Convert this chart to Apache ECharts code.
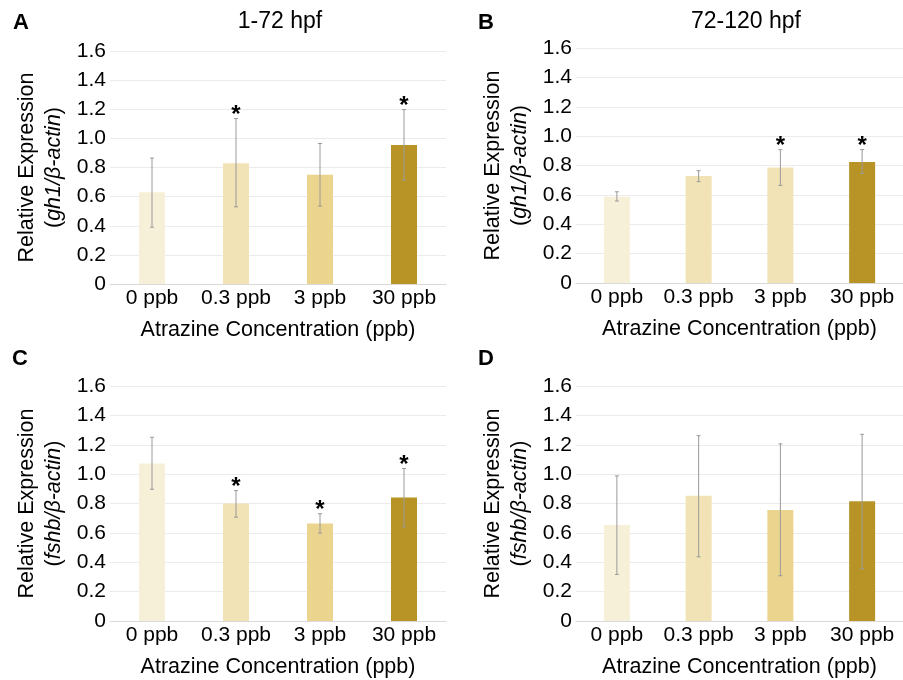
<!DOCTYPE html>
<html>
<head>
<meta charset="utf-8">
<script src="https://cdn.jsdelivr.net/npm/echarts@6/dist/echarts.min.js"></script>
<style>
  html, body { margin: 0; padding: 0; background: #fff; }
  #chart { width: 903px; height: 680px; }
</style>
</head>
<body>
<div id="chart"></div>
<script>
const categories = ['0 ppb', '0.3 ppb', '3 ppb', '30 ppb'];
const yTicks = [0, 0.2, 0.4, 0.6, 0.8, 1.0, 1.2, 1.4, 1.6];

// A: gh1, 1-72 hpf
const meanA = [0.63, 0.83, 0.75, 0.955];
const lowA = [0.39, 0.53, 0.535, 0.713];
const highA = [0.865, 1.136, 0.965, 1.198];
const sigA = [0, 1, 0, 1];
// B: gh1, 72-120 hpf
const meanB = [0.587, 0.728, 0.787, 0.824];
const lowB = [0.558, 0.69, 0.665, 0.746];
const highB = [0.621, 0.765, 0.908, 0.908];
const sigB = [0, 0, 1, 1];
// C: fshb, 1-72 hpf
const meanC = [1.072, 0.80, 0.664, 0.841];
const lowC = [0.897, 0.707, 0.598, 0.641];
const highC = [1.251, 0.888, 0.730, 1.038];
const sigC = [0, 1, 1, 1];
// D: fshb, 72-120 hpf
const meanD = [0.653, 0.852, 0.755, 0.816];
const lowD = [0.317, 0.437, 0.308, 0.356];
const highD = [0.988, 1.262, 1.206, 1.271];
const sigD = [0, 0, 0, 0];

const colorsA = ['#F7F0D8', '#F1E3B5', '#EBD48D', '#B89426'];
const colorsB = ['#F7F0D8', '#F1E3B5', '#F1E3B5', '#B89426'];

const FONT = '"Liberation Sans", Arial, sans-serif';
const FS = 21;

const panels = [
  { mean: meanA, low: lowA, high: highA, sig: sigA, colors: colorsA, gene: 'gh1', grid: { left: 110, top: 51, width: 336, height: 233 } },
  { mean: meanB, low: lowB, high: highB, sig: sigB, colors: colorsB, gene: 'gh1', grid: { left: 576, top: 48, width: 336, height: 235 } },
  { mean: meanC, low: lowC, high: highC, sig: sigC, colors: colorsA, gene: 'fshb', grid: { left: 110, top: 386, width: 336, height: 235 } },
  { mean: meanD, low: lowD, high: highD, sig: sigD, colors: colorsA, gene: 'fshb', grid: { left: 576, top: 386, width: 336, height: 235 } }
];

const grids = [], xAxes = [], yAxes = [], series = [];

panels.forEach((p, k) => {
  grids.push(p.grid);
  xAxes.push({
    type: 'category',
    gridIndex: k,
    data: categories,
    axisLine: { lineStyle: { color: '#D9D9D9' } },
    axisTick: { show: false },
    axisLabel: { color: '#000', fontSize: FS, fontFamily: FONT, margin: 4, interval: 0 },
    name: 'Atrazine Concentration (ppb)',
    nameLocation: 'middle',
    nameGap: 35,
    nameTextStyle: { color: '#000', fontSize: 21.5, fontFamily: FONT }
  });
  yAxes.push({
    type: 'value',
    gridIndex: k,
    min: 0,
    max: 1.6,
    interval: 0.2,
    axisLine: { show: false },
    axisTick: { show: false },
    splitLine: { lineStyle: { color: '#EBEBEB' } },
    axisLabel: {
      color: '#000', fontSize: FS, fontFamily: FONT, margin: 4,
      formatter: v => (v === 0 ? '0' : v.toFixed(1))
    },
    name: '{a|Relative Expression}\n{b|(}{c|' + p.gene + '/β-actin}{b|)}',
    nameLocation: 'middle',
    nameGap: 42,
    nameTextStyle: {
      rich: {
        a: { fontSize: 21.5, fontFamily: FONT, color: '#000', lineHeight: 27 },
        b: { fontSize: 21.5, fontFamily: FONT, color: '#000', lineHeight: 27 },
        c: { fontSize: 21.5, fontFamily: FONT, color: '#000', fontStyle: 'italic', lineHeight: 27 }
      }
    }
  });
  series.push({
    type: 'bar',
    xAxisIndex: k,
    yAxisIndex: k,
    barWidth: 26,
    data: p.mean.map((v, i) => ({ value: v, itemStyle: { color: p.colors[i] } })),
    silent: true
  });
  series.push({
    type: 'custom',
    xAxisIndex: k,
    yAxisIndex: k,
    silent: true,
    z: 5,
    data: p.mean.map((v, i) => [i, p.low[i], p.high[i], p.sig[i]]),
    renderItem: (params, api) => {
      const lo = api.coord([api.value(0), api.value(1)]);
      const hi = api.coord([api.value(0), api.value(2)]);
      const cap = 2;
      const st = { stroke: '#9A9A9A', lineWidth: 1 };
      const children = [
        { type: 'line', shape: { x1: hi[0], y1: hi[1], x2: lo[0], y2: lo[1] }, style: st },
        { type: 'line', shape: { x1: hi[0] - cap, y1: hi[1], x2: hi[0] + cap, y2: hi[1] }, style: st },
        { type: 'line', shape: { x1: lo[0] - cap, y1: lo[1], x2: lo[0] + cap, y2: lo[1] }, style: st }
      ];
      if (api.value(3)) {
        children.push({
          type: 'text',
          style: {
            text: '*', x: hi[0], y: hi[1] + 9, align: 'center', verticalAlign: 'bottom',
            fontSize: 24, fontWeight: 'bold', fontFamily: FONT, fill: '#000'
          }
        });
      }
      return { type: 'group', children: children };
    }
  });
});

const txt = (text, x, y, opts) => ({
  type: 'text', x: x, y: y,
  style: Object.assign({ text: text, fill: '#000', fontFamily: FONT, fontSize: 23, align: 'center', verticalAlign: 'middle' }, opts || {})
});

const chart = echarts.init(document.getElementById('chart'));
chart.setOption({
  animation: false,
  backgroundColor: '#fff',
  grid: grids,
  xAxis: xAxes,
  yAxis: yAxes,
  series: series,
  graphic: [
    txt('A', 21, 23, { fontWeight: 'bold', fontSize: 22 }),
    txt('B', 486, 23, { fontWeight: 'bold', fontSize: 22 }),
    txt('C', 20, 359, { fontWeight: 'bold', fontSize: 22 }),
    txt('D', 486, 359, { fontWeight: 'bold', fontSize: 22 }),
    txt('1-72 hpf', 280, 22),
    txt('72-120 hpf', 746, 22)
  ]
});
</script>
</body>
</html>
